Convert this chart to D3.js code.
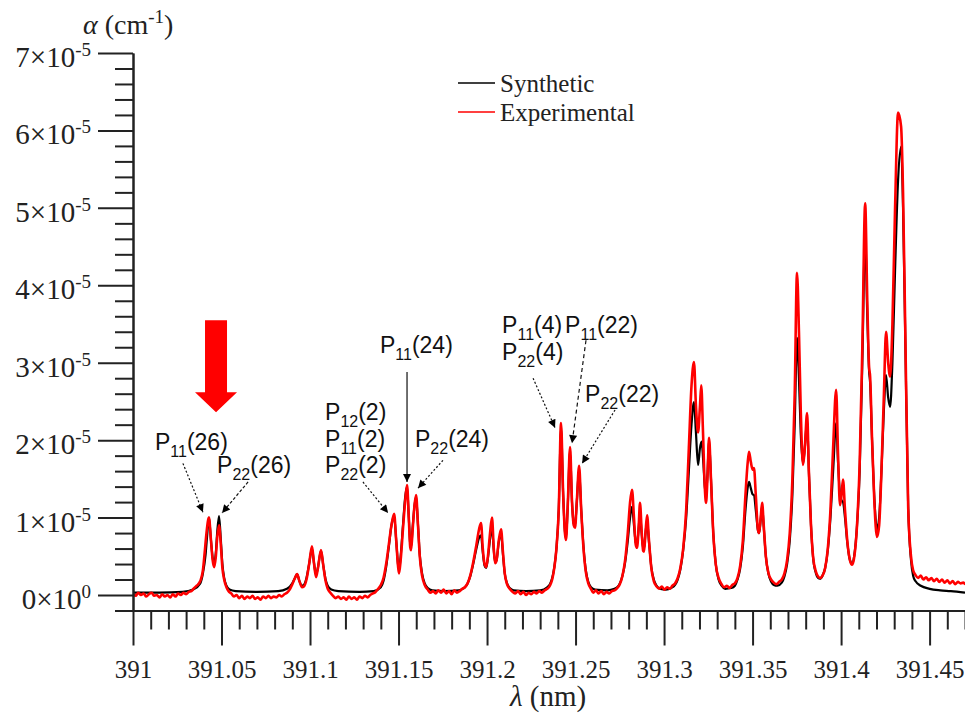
<!DOCTYPE html>
<html><head><meta charset="utf-8">
<script src="https://cdn.jsdelivr.net/npm/d3@7"></script>
<style>body{margin:0;background:#fff}svg{display:block}</style>
</head><body><svg id="c" width="965" height="713"></svg>
<script>
// ---------------- DATA ----------------
const xMajorTicks = [391, 391.05, 391.1, 391.15, 391.2, 391.25, 391.3, 391.35, 391.4, 391.45];
const xTickLabels = ["391", "391.05", "391.1", "391.15", "391.2", "391.25", "391.3", "391.35", "391.4", "391.45"];
const yMajorTicks = [0, 1, 2, 3, 4, 5, 6, 7];
const yTickMantissa = ["0", "1", "2", "3", "4", "5", "6", "7"];
const yTickExponent = ["0", "-5", "-5", "-5", "-5", "-5", "-5", "-5"];
const seriesNames = ["Synthetic", "Experimental"];
const seriesColors = ["#000000", "#ff0000"];

// wavelength (nm), absorption coefficient (x1e-5 cm^-1)
const synthetic = [
[391.000,0.03],[391.015,0.03],[391.028,0.04],[391.034,0.07],[391.0380,0.15],[391.0395,0.28],[391.0410,0.52],[391.0420,0.8],[391.0429,1.0],[391.0440,0.72],[391.0450,0.48],[391.0458,0.4],[391.0468,0.55],[391.0476,0.82],[391.0486,1.02],[391.0496,0.72],[391.0505,0.4],[391.0515,0.22],[391.0528,0.12],[391.0545,0.07],[391.058,0.05],[391.070,0.04],[391.082,0.05],[391.087,0.08],
[391.0900,0.15],[391.0915,0.22],[391.0927,0.27],[391.0940,0.18],[391.0955,0.12],[391.0965,0.13],[391.0980,0.22],[391.0995,0.4],[391.1011,0.6],[391.1022,0.42],[391.1034,0.26],[391.1045,0.36],[391.1062,0.57],[391.1075,0.38],[391.1088,0.2],[391.1100,0.12],[391.1120,0.07],[391.116,0.05],[391.128,0.04],[391.136,0.05],
[391.1400,0.1],[391.1415,0.18],[391.1430,0.36],[391.1445,0.62],[391.1460,0.9],[391.1475,1.02],[391.1487,0.7],[391.1497,0.4],[391.1503,0.32],[391.1512,0.5],[391.1525,0.9],[391.1537,1.25],[391.1548,1.4],[391.1558,1.0],[391.1566,0.66],[391.1571,0.62],[391.1580,0.88],[391.1590,1.15],[391.1599,1.27],[391.1610,0.9],[391.1620,0.52],[391.1633,0.28],[391.1648,0.15],[391.1665,0.09],[391.1690,0.06],[391.176,0.05],[391.184,0.06],
[391.1875,0.1],[391.1890,0.15],[391.1905,0.24],[391.1920,0.38],[391.1940,0.6],[391.1955,0.74],[391.1966,0.77],[391.1976,0.55],[391.1986,0.38],[391.1995,0.35],[391.2005,0.48],[391.2017,0.72],[391.2028,0.87],[391.2038,0.58],[391.2046,0.42],[391.2054,0.45],[391.2066,0.68],[391.2079,0.8],[391.2090,0.52],[391.2100,0.28],[391.2113,0.15],[391.2128,0.09],[391.2150,0.06],[391.222,0.05],[391.230,0.06],
[391.2340,0.1],[391.2355,0.14],[391.2368,0.22],[391.2380,0.36],[391.2392,0.6],[391.2405,1.1],[391.2418,2.15],[391.2430,1.3],[391.2440,0.82],[391.2446,0.74],[391.2455,1.1],[391.2469,1.85],[391.2480,1.2],[391.2490,0.92],[391.2497,0.9],[391.2507,1.2],[391.2520,1.62],[391.2532,1.1],[391.2545,0.62],[391.2558,0.32],[391.2572,0.17],[391.2587,0.1],[391.2610,0.07],[391.268,0.06],
[391.2720,0.08],[391.2735,0.1],[391.2750,0.15],[391.2765,0.25],[391.2780,0.42],[391.2795,0.7],[391.2808,1.0],[391.2819,1.14],[391.2830,0.9],[391.2840,0.68],[391.2847,0.65],[391.2856,0.85],[391.2864,1.05],[391.2874,0.78],[391.2882,0.6],[391.2887,0.6],[391.2895,0.8],[391.2904,0.95],[391.2915,0.68],[391.2928,0.36],[391.2942,0.2],[391.2958,0.12],[391.2980,0.08],[391.3010,0.07],[391.3040,0.09],
[391.3062,0.13],[391.3077,0.2],[391.3092,0.33],[391.3108,0.58],[391.3125,1.0],[391.3140,1.6],[391.3155,2.2],[391.3169,2.49],[391.3180,2.1],[391.3192,1.68],[391.3203,1.9],[391.3212,1.98],[391.3222,1.7],[391.3230,1.4],[391.3237,1.3],[391.3245,1.55],[391.3254,2.0],[391.3265,1.5],[391.3278,0.8],[391.3292,0.4],[391.3308,0.2],[391.3325,0.12],[391.3345,0.08],[391.3380,0.09],
[391.3400,0.12],[391.3415,0.2],[391.3430,0.34],[391.3445,0.62],[391.3460,1.1],[391.3472,1.38],[391.3480,1.46],[391.3490,1.38],[391.3500,1.3],[391.3508,1.29],[391.3518,1.1],[391.3530,0.84],[391.3537,0.8],[391.3546,0.98],[391.3554,1.15],[391.3563,0.88],[391.3575,0.5],[391.3590,0.27],[391.3605,0.17],[391.3620,0.13],[391.3640,0.12],
[391.3665,0.16],[391.3680,0.24],[391.3695,0.4],[391.3710,0.7],[391.3725,1.3],[391.3738,2.2],[391.3751,3.32],[391.3762,2.8],[391.3772,2.1],[391.3785,1.7],[391.3795,1.9],[391.3808,2.25],[391.3818,1.6],[391.3830,0.9],[391.3842,0.48],[391.3858,0.28],[391.3870,0.22],[391.3881,0.21],
[391.3895,0.25],[391.3910,0.35],[391.3925,0.58],[391.3940,1.0],[391.3955,1.6],[391.3972,2.22],[391.3983,1.7],[391.3994,1.3],[391.4003,1.22],[391.4011,1.2],[391.4022,1.0],[391.4035,0.68],[391.4050,0.45],[391.4062,0.41],
[391.4075,0.52],[391.4090,0.9],[391.4105,1.6],[391.4120,3.0],[391.4136,4.63],[391.4148,3.6],[391.4158,2.9],[391.4164,2.74],[391.4175,2.0],[391.4188,1.25],[391.4203,0.85],
[391.4215,1.0],[391.4228,1.6],[391.4242,2.4],[391.4254,2.84],[391.4266,2.55],[391.4277,2.43],[391.4290,3.0],[391.4305,4.2],[391.4322,5.36],[391.4339,5.79],[391.4350,5.0],[391.4362,3.4],[391.4379,1.14],[391.4395,0.45],[391.4407,0.25],[391.4420,0.18],[391.4450,0.12],[391.4500,0.08],[391.4560,0.06],[391.4620,0.05],[391.4700,0.03]
];

const experimental = [
[391.0000,0.02],[391.0015,-0.01],[391.0030,0.03],[391.0045,0.00],[391.0060,0.02],[391.0075,-0.02],[391.0090,0.01],[391.0105,0.03],[391.0120,-0.01],[391.0135,0.00],[391.0150,-0.03],[391.0165,0.01],[391.0180,-0.02],[391.0195,0.00],[391.0210,-0.03],[391.0225,0.01],[391.0240,-0.02],[391.0255,0.02],[391.0270,0.00],[391.0285,0.03],[391.0300,0.01],[391.0315,0.04],[391.0330,0.05],[391.0345,0.09],[391.0360,0.12],
[391.0380,0.18],[391.0395,0.32],[391.0405,0.55],[391.0415,0.8],[391.0429,1.00],[391.0440,0.72],[391.0450,0.45],[391.0458,0.36],[391.0468,0.5],[391.0476,0.75],[391.0486,0.90],[391.0496,0.65],[391.0505,0.35],[391.0515,0.2],[391.0528,0.1],[391.0540,0.05],[391.0555,0.02],
[391.0570,-0.02],[391.0585,0.00],[391.0600,-0.04],[391.0615,-0.01],[391.0630,-0.05],[391.0645,-0.02],[391.0660,-0.04],[391.0675,-0.01],[391.0690,-0.05],[391.0705,-0.03],[391.0720,-0.06],[391.0735,-0.02],[391.0750,-0.04],[391.0765,-0.01],[391.0780,-0.04],[391.0795,-0.02],[391.0810,-0.03],[391.0825,0.00],[391.0840,-0.02],[391.0855,0.01],[391.0870,0.03],[391.0885,0.07],
[391.0900,0.14],[391.0915,0.22],[391.0927,0.27],[391.0940,0.18],[391.0955,0.1],[391.0965,0.11],[391.0980,0.2],[391.0995,0.4],[391.1011,0.63],[391.1022,0.42],[391.1034,0.23],[391.1045,0.35],[391.1062,0.58],[391.1075,0.38],[391.1088,0.18],[391.1100,0.08],[391.1115,0.03],
[391.1130,-0.01],[391.1145,-0.04],[391.1160,-0.02],[391.1175,-0.05],[391.1190,-0.03],[391.1205,-0.06],[391.1220,-0.02],[391.1235,-0.05],[391.1250,-0.03],[391.1265,-0.06],[391.1280,-0.02],[391.1295,-0.04],[391.1310,-0.01],[391.1325,-0.03],[391.1340,0.00],[391.1355,0.02],[391.1370,0.04],[391.1385,0.08],
[391.1400,0.13],[391.1415,0.22],[391.1430,0.4],[391.1445,0.65],[391.1460,0.9],[391.1475,1.05],[391.1487,0.7],[391.1497,0.38],[391.1503,0.28],[391.1512,0.45],[391.1525,0.85],[391.1537,1.2],[391.1548,1.42],[391.1558,1.0],[391.1566,0.62],[391.1571,0.58],[391.1580,0.85],[391.1590,1.15],[391.1599,1.29],[391.1610,0.9],[391.1620,0.5],[391.1633,0.25],[391.1648,0.13],[391.1665,0.07],[391.1680,0.03],
[391.1695,0.05],[391.1710,0.02],[391.1725,0.06],[391.1740,0.03],[391.1755,0.07],[391.1770,0.02],[391.1785,0.05],[391.1800,0.01],[391.1815,0.06],[391.1830,0.03],[391.1845,0.05],[391.1860,0.08],
[391.1875,0.1],[391.1890,0.15],[391.1905,0.25],[391.1920,0.4],[391.1940,0.65],[391.1955,0.85],[391.1966,0.93],[391.1976,0.6],[391.1986,0.4],[391.1995,0.36],[391.2005,0.5],[391.2017,0.8],[391.2028,1.0],[391.2038,0.6],[391.2046,0.41],[391.2054,0.45],[391.2066,0.7],[391.2079,0.85],[391.2090,0.55],[391.2100,0.28],[391.2113,0.14],[391.2128,0.08],[391.2145,0.04],
[391.2160,0.02],[391.2175,0.05],[391.2190,0.01],[391.2205,0.04],[391.2220,0.00],[391.2235,0.03],[391.2250,0.01],[391.2265,0.04],[391.2280,0.02],[391.2295,0.05],[391.2310,0.03],[391.2325,0.06],
[391.2340,0.08],[391.2355,0.12],[391.2368,0.2],[391.2380,0.35],[391.2392,0.6],[391.2405,1.1],[391.2418,2.22],[391.2430,1.3],[391.2440,0.8],[391.2446,0.71],[391.2455,1.1],[391.2469,1.91],[391.2480,1.2],[391.2490,0.9],[391.2497,0.87],[391.2507,1.2],[391.2520,1.67],[391.2532,1.1],[391.2545,0.6],[391.2558,0.3],[391.2572,0.15],[391.2587,0.08],
[391.2600,0.03],[391.2615,0.06],[391.2630,0.02],[391.2645,0.05],[391.2660,0.01],[391.2675,0.04],[391.2690,0.02],[391.2705,0.05],[391.2720,0.06],
[391.2735,0.09],[391.2750,0.14],[391.2765,0.25],[391.2780,0.45],[391.2795,0.8],[391.2808,1.2],[391.2819,1.36],[391.2830,1.0],[391.2840,0.65],[391.2847,0.61],[391.2856,0.85],[391.2864,1.19],[391.2874,0.8],[391.2882,0.57],[391.2887,0.56],[391.2895,0.8],[391.2904,1.03],[391.2915,0.7],[391.2928,0.35],[391.2942,0.18],[391.2958,0.11],
[391.2972,0.08],[391.2987,0.11],[391.3002,0.07],[391.3017,0.1],[391.3032,0.08],[391.3047,0.12],
[391.3062,0.15],[391.3077,0.22],[391.3092,0.35],[391.3108,0.6],[391.3125,1.1],[391.3140,1.9],[391.3155,2.7],[391.3169,3.01],[391.3180,2.45],[391.3192,2.1],[391.3203,2.45],[391.3210,2.71],[391.3220,2.1],[391.3230,1.4],[391.3237,1.19],[391.3245,1.5],[391.3254,2.03],[391.3265,1.5],[391.3278,0.8],[391.3292,0.4],[391.3308,0.22],[391.3325,0.14],
[391.3340,0.1],[391.3355,0.12],[391.3370,0.09],[391.3385,0.13],
[391.3400,0.15],[391.3415,0.22],[391.3430,0.38],[391.3445,0.7],[391.3460,1.3],[391.3472,1.7],[391.3480,1.85],[391.3490,1.72],[391.3500,1.62],[391.3508,1.64],[391.3518,1.3],[391.3530,0.85],[391.3537,0.8],[391.3546,1.0],[391.3554,1.19],[391.3563,0.9],[391.3575,0.5],[391.3590,0.28],[391.3605,0.2],
[391.3620,0.16],[391.3635,0.14],[391.3650,0.17],
[391.3665,0.2],[391.3680,0.28],[391.3695,0.45],[391.3710,0.8],[391.3725,1.5],[391.3738,2.6],[391.3751,4.16],[391.3762,3.4],[391.3772,2.4],[391.3785,1.68],[391.3795,1.9],[391.3808,2.35],[391.3818,1.6],[391.3830,0.9],[391.3842,0.49],[391.3858,0.3],[391.3870,0.24],[391.3881,0.22],
[391.3895,0.25],[391.3910,0.35],[391.3925,0.6],[391.3940,1.1],[391.3955,1.9],[391.3972,2.65],[391.3983,1.8],[391.3994,1.16],[391.4003,1.3],[391.4011,1.49],[391.4022,1.1],[391.4035,0.7],[391.4050,0.45],[391.4062,0.39],
[391.4075,0.5],[391.4090,0.9],[391.4105,1.7],[391.4120,3.2],[391.4136,5.06],[391.4148,3.8],[391.4158,2.95],[391.4164,2.82],[391.4175,2.0],[391.4188,1.2],[391.4203,0.75],
[391.4215,0.9],[391.4228,1.6],[391.4242,2.6],[391.4254,3.4],[391.4266,3.0],[391.4277,2.82],[391.4290,3.5],[391.4305,5.0],[391.4322,6.23],[391.4339,6.05],[391.4350,5.2],[391.4362,3.5],[391.4379,1.14],[391.4395,0.5],[391.4407,0.32],[391.4420,0.26],
[391.4435,0.22],[391.4450,0.25],[391.4465,0.2],[391.4480,0.23],[391.4495,0.19],[391.4510,0.22],[391.4525,0.18],[391.4540,0.21],[391.4555,0.17],[391.4570,0.2],[391.4585,0.16],[391.4600,0.19],[391.4615,0.15],[391.4630,0.18],[391.4645,0.14],[391.4660,0.17],[391.4675,0.15],[391.4690,0.16],[391.4705,0.14],[391.4720,0.15]
];

// peak labels: [main, subscript, rest]
const labelTexts = [
  ["P","11","(26)"], ["P","22","(26)"],
  ["P","12","(2)"], ["P","11","(2)"], ["P","22","(2)"],
  ["P","11","(24)"], ["P","22","(24)"],
  ["P","11","(4)"], ["P","22","(4)"], ["P","11","(22)"], ["P","22","(22)"]
];
// label anchor points in data coordinates (nm, x1e-5)
const labelX = [391.0124, 391.0475, 391.1085, 391.1085, 391.1085, 391.1395, 391.1593, 391.2085, 391.2085, 391.2441, 391.2554];
const labelY = [1.87, 1.58, 2.26, 1.91, 1.58, 3.13, 1.91, 3.38, 3.04, 3.38, 2.49];
// annotation arrows in data coordinates
const arrowFromX = [391.0282, 391.0650, 391.1299, 391.1548, 391.1751, 391.2260, 391.2559, 391.2723];
const arrowFromY = [1.70, 1.46, 1.46, 2.88, 1.74, 2.80, 3.29, 2.39];
const arrowToX   = [391.0395, 391.0503, 391.1441, 391.1548, 391.1610, 391.2384, 391.2480, 391.2537];
const arrowToY   = [1.07, 1.06, 1.06, 1.46, 1.38, 2.16, 1.96, 1.70];
const arrowDash  = ["2,2", "3,2", "2,2", null, "2,2", "2,2", "4,3", "2,2"];
// highlight arrow (red) in data coordinates
const highlightX = 391.0469, highlightTop = 3.55, highlightTip = 2.36;

// ---------------- CHART ----------------
const svg = d3.select("#c");
const pL = 133, pR = 965, pT = 53, pB = 610.5;
const x = d3.scaleLinear().domain([391, 391.47]).range([pL, pR]);
const y = d3.scaleLinear().domain([-0.2, 7]).range([pB, pT]);

const serif = "'Liberation Serif','Times New Roman',serif";
const sans = "'Liberation Sans',Arial,sans-serif";

const defs = svg.append("defs");
defs.append("clipPath").attr("id","clip").append("rect")
  .attr("x", pL).attr("y", 0).attr("width", pR - pL).attr("height", pB);

// lines
const line = d3.line().x(d => x(d[0])).y(d => y(d[1])).curve(d3.curveMonotoneX);
const g = svg.append("g").attr("clip-path","url(#clip)");
g.append("path").datum(synthetic).attr("d", line).attr("fill","none")
  .attr("stroke", seriesColors[0]).attr("stroke-width", 2.2).attr("stroke-linejoin","round");
g.append("path").datum(experimental).attr("d", line).attr("fill","none")
  .attr("stroke", seriesColors[1]).attr("stroke-width", 2.6).attr("stroke-linejoin","round");

// x axis
const xMinor = d3.range(0, 48).map(i => 391 + i*0.01).filter(v => !xMajorTicks.some(m => Math.abs(m-v) < 1e-6));
const axX = svg.append("g").attr("transform", `translate(0,${pB})`);
axX.call(d3.axisBottom(x).tickValues(xMinor).tickSize(19).tickSizeOuter(0).tickFormat(""));
const axX2 = svg.append("g").attr("transform", `translate(0,${pB})`);
axX2.call(d3.axisBottom(x).tickValues(xMajorTicks).tickSize(35).tickSizeOuter(0).tickFormat((d,i) => xTickLabels[i]));
axX2.selectAll("text").attr("y", 67).attr("dy", 0).attr("font-family", serif).attr("font-size", 25).attr("fill", "#222");

// y axis
const yMinor = d3.range(-1, 36).map(i => i*0.2).filter(v => !yMajorTicks.some(m => Math.abs(m-v) < 1e-6));
const axY = svg.append("g").attr("transform", `translate(${pL},0)`);
axY.call(d3.axisLeft(y).tickValues(yMinor).tickSize(18).tickSizeOuter(0).tickFormat(""));
const axY2 = svg.append("g").attr("transform", `translate(${pL},0)`);
axY2.call(d3.axisLeft(y).tickValues(yMajorTicks).tickSize(35).tickSizeOuter(0).tickFormat(""));

[axX, axX2, axY, axY2].forEach(a => {
  a.selectAll("path.domain").attr("stroke", "#222").attr("stroke-width", 2);
  a.selectAll(".tick line").attr("stroke", "#222").attr("stroke-width", 2);
});

// y tick labels with superscript exponent
yMajorTicks.forEach((v, i) => {
  const t = svg.append("text").attr("x", 91).attr("y", y(v) + 14)
    .attr("text-anchor", "end").attr("font-family", serif).attr("font-size", 29).attr("fill", "#222");
  t.append("tspan").text(yTickMantissa[i] + "\u00D7" + "10");
  t.append("tspan").attr("dy", -11).attr("font-size", 19).text(yTickExponent[i]);
});

// axis titles
const yt = svg.append("text").attr("x", 83).attr("y", 34).attr("font-family", serif).attr("font-size", 28).attr("fill", "#222");
yt.append("tspan").attr("font-style", "italic").text("\u03B1");
yt.append("tspan").text(" (cm");
yt.append("tspan").attr("dy", -11).attr("font-size", 19).text("-1");
yt.append("tspan").attr("dy", 11).text(")");

const xt = svg.append("text").attr("x", 510).attr("y", 706).attr("font-family", serif).attr("font-size", 29).attr("fill", "#222");
xt.append("tspan").attr("font-style", "italic").text("\u03BB");
xt.append("tspan").text(" (nm)");

// legend
seriesNames.forEach((n, i) => {
  const ly = 83 + i*29;
  svg.append("line").attr("x1", 458).attr("x2", 495).attr("y1", ly).attr("y2", ly)
    .attr("stroke", seriesColors[i]).attr("stroke-width", 1.6);
  svg.append("text").attr("x", 500).attr("y", ly + 9).attr("font-family", serif)
    .attr("font-size", 25).attr("fill", "#222").text(n);
});

// arrowhead marker
defs.append("marker").attr("id", "ah").attr("viewBox", "0 0 10 10")
  .attr("refX", 10).attr("refY", 5).attr("markerWidth", 10).attr("markerHeight", 8)
  .attr("markerUnits", "userSpaceOnUse").attr("orient", "auto")
  .append("path").attr("d", "M0,0 L10,5 L0,10 Z").attr("fill", "#000");

arrowFromX.forEach((fx, i) => {
  const l = svg.append("line").attr("x1", x(fx)).attr("y1", y(arrowFromY[i]))
    .attr("x2", x(arrowToX[i])).attr("y2", y(arrowToY[i]))
    .attr("stroke", "#111").attr("stroke-width", 1.2).attr("marker-end", "url(#ah)");
  if (arrowDash[i]) l.attr("stroke-dasharray", arrowDash[i]);
});

// peak labels
labelTexts.forEach((parts, i) => {
  const t = svg.append("text").attr("x", x(labelX[i])).attr("y", y(labelY[i]))
    .attr("font-family", sans).attr("font-size", 23).attr("fill", "#111");
  t.append("tspan").text(parts[0]);
  t.append("tspan").attr("dy", 7).attr("font-size", 16).text(parts[1]);
  t.append("tspan").attr("dy", -7).text(parts[2]);
});

// red highlight arrow
const cx = x(highlightX), yTop = y(highlightTop), yTip = y(highlightTip);
const headH = 20, shaftW = 11, headW = 21;
svg.append("path").attr("fill", "#ff0000").attr("d",
  `M${cx-shaftW},${yTop} L${cx+shaftW},${yTop} L${cx+shaftW},${yTip-headH} L${cx+headW},${yTip-headH} L${cx},${yTip} L${cx-headW},${yTip-headH} L${cx-shaftW},${yTip-headH} Z`);
</script></body></html>
